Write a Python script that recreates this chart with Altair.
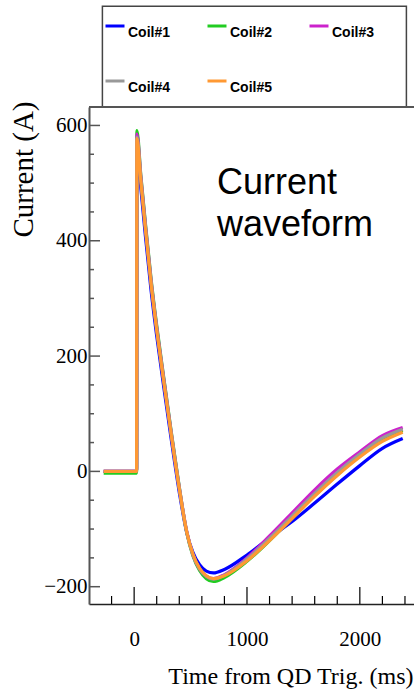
import altair as alt
import pandas as pd

# Coil current waveforms after the quench-detection trigger
t_ms = [-270, 22, 24, 60, 100, 150, 200, 265, 330, 400, 466, 520, 580, 640, 702,
        800, 1000, 1200, 1400, 1600, 1800, 2000, 2200, 2380]

coil1 = [0, 0, 568, 490, 408, 314, 235, 143, 54, -36, -106, -140, -162, -173, -176,
         -170, -145, -115, -87, -55, -22, 10, 40, 57]
coil2 = [-3, -3, 591, 512, 430, 334, 253, 159, 67, -27, -106, -146, -172, -186, -191,
         -184, -156, -120, -81, -42, -6, 27, 55, 71]
coil3 = [0, 0, 585, 509, 427, 331, 250, 157, 65, -28, -104, -144, -169, -182, -186,
         -179, -150, -112, -72, -32, 4, 34, 62, 76]
coil4 = [0, 0, 580, 505, 423, 328, 247, 154, 63, -29, -105, -144, -169, -182, -187,
         -180, -152, -116, -77, -38, -2, 30, 58, 73]
coil5 = [0, 0, 577, 502, 420, 325, 245, 152, 62, -30, -105, -143, -168, -181, -186,
         -181, -155, -120, -82, -43, -7, 25, 52, 68]

coil_names = ["Coil#1", "Coil#2", "Coil#3", "Coil#4", "Coil#5"]
coil_colors = ["#0000ff", "#22cc22", "#cc22cc", "#999999", "#ff9933"]

x_major = [0, 1000, 2000]
x_minor = [-200, 200, 400, 600, 800, 1200, 1400, 1600, 1800, 2200, 2400]
y_major = [-200, 0, 200, 400, 600]
y_minor = [-150, -100, -50, 50, 100, 150, 250, 300, 350, 450, 500, 550]

W, H = 325, 497
SERIF = "Liberation Serif"
SANS = "Liberation Sans"

rows = []
for name, vals in zip(coil_names, [coil1, coil2, coil3, coil4, coil5]):
    for t, v in zip(t_ms, vals):
        rows.append({"coil": name, "t": t, "current": v})
waves = pd.DataFrame(rows)

x_scale = alt.Scale(domain=[-400, 2480], nice=False, zero=False)
y_scale = alt.Scale(domain=[-230, 632], nice=False, zero=False)

x_axis = alt.Axis(values=x_major, format="d", ticks=False, tickSize=0, grid=False,
                  domainColor="#222222", domainWidth=1.5,
                  labelFont=SERIF, labelFontSize=21, labelColor="black",
                  labelPadding=24, labelFlush=False, labelOverlap=False,
                  title="Time from QD Trig. (ms)", titleFont=SERIF,
                  titleFontSize=24, titleFontWeight="normal", titleColor="black",
                  titleAlign="right", titleBaseline="alphabetic",
                  titleX=324, titleY=79)
y_axis = alt.Axis(values=y_major, format="d", ticks=False, tickSize=0, grid=False,
                  domainColor="#555555", domainWidth=2,
                  labelFont=SERIF, labelFontSize=21, labelColor="black",
                  labelPadding=2, labelFlush=False, labelOverlap=False,
                  title="Current (A)", titleFont=SERIF, titleFontSize=29,
                  titleFontWeight="normal", titleColor="black",
                  titleAngle=270, titleAlign="right", titleBaseline="middle",
                  titleX=-66, titleY=-6)

lines = alt.Chart(waves).mark_line(strokeWidth=3.2, interpolate="monotone").encode(
    x=alt.X("t:Q", scale=x_scale, axis=x_axis),
    y=alt.Y("current:Q", scale=y_scale, axis=y_axis),
    color=alt.Color("coil:N",
                    scale=alt.Scale(domain=coil_names, range=coil_colors),
                    legend=alt.Legend(title=None, orient="none", legendX=15, legendY=-92,
                                      direction="horizontal", columns=3,
                                      symbolType="stroke", symbolSize=361,
                                      symbolStrokeWidth=3, labelFont=SANS,
                                      labelFontWeight="bold", labelFontSize=14,
                                      labelColor="black", labelBaseline="top",
                                      labelOffset=2, columnPadding=30, rowPadding=30,
                                      padding=0)),
)

# inward-pointing tick marks, ROOT style
xt_major = alt.Chart(pd.DataFrame({"v": x_major})).mark_rule(color="black", strokeWidth=1.2).encode(
    x=alt.X("v:Q", scale=x_scale, axis=x_axis), y=alt.value(H), y2=alt.value(H - 17))
xt_minor = alt.Chart(pd.DataFrame({"v": x_minor})).mark_rule(color="black", strokeWidth=1.2).encode(
    x=alt.X("v:Q", scale=x_scale, axis=x_axis), y=alt.value(H), y2=alt.value(H - 8))
yt_major = alt.Chart(pd.DataFrame({"v": y_major})).mark_rule(color="#555555", strokeWidth=1.5).encode(
    y=alt.Y("v:Q", scale=y_scale, axis=y_axis), x=alt.value(0), x2=alt.value(11))
yt_minor = alt.Chart(pd.DataFrame({"v": y_minor})).mark_rule(color="#555555", strokeWidth=1.5).encode(
    y=alt.Y("v:Q", scale=y_scale, axis=y_axis), x=alt.value(0), x2=alt.value(5))

# frame top edge and legend box
frame_top = alt.Chart(pd.DataFrame({"k": [0]})).mark_rule(color="#555555", strokeWidth=2).encode(
    x=alt.value(0), x2=alt.value(W), y=alt.value(0))
legend_box = alt.Chart(pd.DataFrame({"k": [0]})).mark_rect(
    fillOpacity=0, stroke="#444444", strokeWidth=1.5).encode(
    x=alt.value(13.4), x2=alt.value(317.4), y=alt.value(-100.7), y2=alt.value(0))

note = alt.Chart(pd.DataFrame({"k": [0]})).mark_text(
    text=["Current", "waveform"], font=SANS, fontSize=36, color="black",
    align="left", baseline="alphabetic", lineHeight=42).encode(
    x=alt.value(128), y=alt.value(86.6))

chart = alt.layer(
    legend_box, xt_minor, xt_major, yt_minor, yt_major, lines, frame_top, note
).properties(
    width=W, height=H,
    padding={"left": 89, "top": 107, "right": 0, "bottom": 87},
    autosize=alt.AutoSizeParams(type="none"),
    background="white",
).configure_view(strokeOpacity=0)

chart.save("out.html", embed_options={"renderer": "svg", "actions": False})
